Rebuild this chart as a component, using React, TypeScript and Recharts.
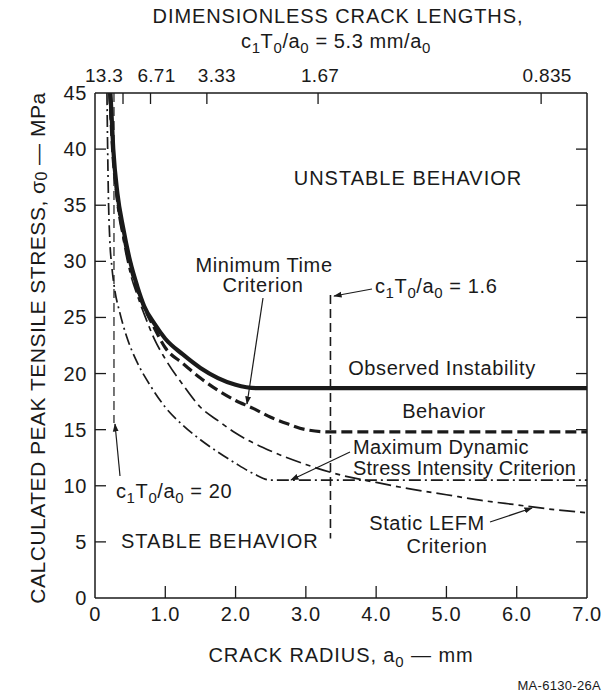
import React from 'react';
import { ComposedChart, Line, XAxis, YAxis } from 'recharts';

// ---- data ----
const observedX = [0.22, 0.26, 0.32, 0.4, 0.5, 0.6, 0.7, 0.85, 1.0, 1.25, 1.5, 1.75, 2.0, 2.3, 7.0];
const observedY = [45, 40, 36, 33, 30, 27.8, 26, 24.4, 23.1, 21.7, 20.5, 19.6, 19.0, 18.7, 18.7];

const minTimeX = [0.21, 0.25, 0.31, 0.4, 0.5, 0.6, 0.7, 0.85, 1.0, 1.25, 1.5, 1.75, 2.0, 2.25, 2.5, 2.75, 3.0, 3.35, 7.0];
const minTimeY = [45, 40, 36, 32.5, 29.6, 27.5, 25.9, 24.0, 22.3, 20.9, 19.6, 18.5, 17.6, 16.9, 16.1, 15.5, 15.0, 14.8, 14.8];

const lefmX = [0.2, 0.25, 0.3, 0.4, 0.5, 0.6, 0.7, 0.85, 1.0, 1.25, 1.5, 1.75, 2.0, 2.5, 3.0, 3.5, 4.0, 4.5, 5.0, 5.5, 6.0, 6.5, 7.0];
const lefmY = [45, 40, 36, 32, 29, 27, 25.3, 23.0, 21.3, 19.0, 17.0, 15.8, 14.7, 13.1, 11.9, 10.95, 10.3, 9.7, 9.2, 8.7, 8.3, 7.9, 7.6];

const maxDynX = [0.17, 0.18, 0.19, 0.21, 0.24, 0.28, 0.35, 0.45, 0.6, 0.8, 1.0, 1.25, 1.5, 1.75, 2.0, 2.25, 2.5, 7.0];
const maxDynY = [45, 40, 36, 32, 29.5, 27.5, 25.5, 23.3, 21, 18.8, 17.0, 15.4, 14.1, 13.0, 12.0, 11.1, 10.5, 10.5];

const stableLimitX = [0.27, 0.27];
const stableLimitY = [45, 15.6];
const criticalX = [3.35, 3.35];
const criticalY = [27, 5.3];

const xTicks = [0, 1, 2, 3, 4, 5, 6, 7];
const yTicks = [0, 5, 10, 15, 20, 25, 30, 35, 40, 45];
const topLabels = ['13.3', '6.71', '3.33', '1.67', '0.835'];
const topLabelShift = [-19, 6, 10, 2, 6];
const c1T0mm = 5.3;
const topTicks = topLabels.map((l) => c1T0mm / parseFloat(l));

const toPts = (xs: number[], ys: number[]) => xs.map((x, i) => ({ x, y: ys[i] }));

const FONT = '"Liberation Sans", Arial, Helvetica, sans-serif';
const INK = '#1a1a1a';
const LS = 0.6;

const BottomTick = (p: any) => {
  const { x, y, payload, index } = p;
  const v = payload.value;
  const inner = index > 0 && index < xTicks.length - 1;
  return (
    <g>
      {inner && <line x1={x} y1={y} x2={x} y2={y - 12} stroke={INK} strokeWidth={1.3} />}
      <text x={x} y={y + 23} textAnchor="middle" fontSize={20} letterSpacing={LS} fontFamily={FONT} fill={INK}>
        {v === 0 ? '0' : v.toFixed(1)}
      </text>
    </g>
  );
};

const TopTick = (p: any) => {
  const { x, y, index } = p;
  return (
    <g>
      <line x1={x} y1={y} x2={x} y2={y + 11} stroke={INK} strokeWidth={1.3} />
      <text x={x + topLabelShift[index]} y={y - 11} textAnchor="middle" fontSize={19} letterSpacing={0.3} fontFamily={FONT} fill={INK}>
        {topLabels[index]}
      </text>
    </g>
  );
};

const LeftTick = (p: any) => {
  const { x, y, payload } = p;
  const v = payload.value;
  const inner = v > 0 && v < 45;
  return (
    <g>
      {inner && <line x1={x} y1={y} x2={x + 11} y2={y} stroke={INK} strokeWidth={1.3} />}
      <text x={x - 8} y={y + 7} textAnchor="end" fontSize={20} letterSpacing={LS} fontFamily={FONT} fill={INK}>
        {v}
      </text>
    </g>
  );
};

const RightTick = (p: any) => {
  const { x, y, payload } = p;
  const v = payload.value;
  const inner = v > 0 && v < 45;
  return <g>{inner && <line x1={x} y1={y} x2={x - 11} y2={y} stroke={INK} strokeWidth={1.3} />}</g>;
};

const Sub = ({ children }: { children: React.ReactNode }) => (
  <tspan baselineShift="-30%" fontSize="75%">
    {children}
  </tspan>
);

const C1T0 = () => (
  <>
    <tspan>c</tspan>
    <Sub>1</Sub>
    <tspan>T</tspan>
    <Sub>0</Sub>
    <tspan>/a</tspan>
    <Sub>0</Sub>
  </>
);

export default function App() {
  const common = { isAnimationActive: false, dot: false, activeDot: false, xAxisId: 'b', yAxisId: 'l', type: 'monotone' as const };
  return (
    <div style={{ position: 'absolute', left: 0, top: 0, width: 608, height: 694, background: '#fff' }}>
      <ComposedChart width={608} height={694} margin={{ top: 63, right: 20, bottom: 66, left: 55 }}>
        <XAxis
          xAxisId="b"
          dataKey="x"
          type="number"
          domain={[0, 7]}
          ticks={xTicks}
          interval={0}
          height={30}
          tickSize={0}
          tickMargin={0}
          tickLine={false}
          axisLine={{ stroke: INK, strokeWidth: 1.5 }}
          tick={<BottomTick />}
          allowDataOverflow
        />
        <XAxis
          xAxisId="top"
          dataKey="x"
          orientation="top"
          type="number"
          domain={[0, 7]}
          ticks={topTicks}
          interval={0}
          height={30}
          tickSize={0}
          tickMargin={0}
          tickLine={false}
          axisLine={{ stroke: INK, strokeWidth: 1.5 }}
          tick={<TopTick />}
          allowDataOverflow
        />
        <YAxis
          yAxisId="l"
          type="number"
          domain={[0, 45]}
          ticks={yTicks}
          interval={0}
          width={40}
          tickSize={0}
          tickMargin={0}
          tickLine={false}
          axisLine={{ stroke: INK, strokeWidth: 1.5 }}
          tick={<LeftTick />}
          allowDataOverflow
        />
        <YAxis
          yAxisId="r"
          orientation="right"
          type="number"
          domain={[0, 45]}
          ticks={yTicks}
          interval={0}
          width={1}
          tickSize={0}
          tickMargin={0}
          tickLine={false}
          axisLine={{ stroke: INK, strokeWidth: 1.5 }}
          tick={<RightTick />}
          allowDataOverflow
        />
        {/* invisible carrier so the top and right frame axes get their ticks */}
        <Line
          isAnimationActive={false}
          dot={false}
          activeDot={false}
          xAxisId="top"
          yAxisId="r"
          data={toPts(observedX, observedY)}
          dataKey="y"
          stroke="none"
          strokeWidth={0}
        />
        <Line {...common} data={toPts(stableLimitX, stableLimitY)} dataKey="y" stroke={INK} strokeWidth={1.2} strokeDasharray="9 5" type="linear" />
        <Line {...common} data={toPts(criticalX, criticalY)} dataKey="y" stroke={INK} strokeWidth={1.6} strokeDasharray="9 5" type="linear" />
        <Line {...common} data={toPts(maxDynX, maxDynY)} dataKey="y" stroke={INK} strokeWidth={1.7} strokeDasharray="12 4 2 4" />
        <Line {...common} data={toPts(lefmX, lefmY)} dataKey="y" stroke={INK} strokeWidth={1.7} strokeDasharray="16 5 5 5" />
        <Line {...common} data={toPts(minTimeX, minTimeY)} dataKey="y" stroke={INK} strokeWidth={3.2} strokeDasharray="11 5" />
        <Line {...common} data={toPts(observedX, observedY)} dataKey="y" stroke={INK} strokeWidth={4.2} />
      </ComposedChart>

      <svg
        width={608}
        height={694}
        style={{ position: 'absolute', left: 0, top: 0, pointerEvents: 'none' }}
        fontFamily={FONT}
        fill={INK}
        letterSpacing={LS}
      >
        <defs>
          <marker id="arr" viewBox="0 0 10 10" refX="9" refY="5" markerWidth="7" markerHeight="7" orient="auto-start-reverse">
            <path d="M0,1.5 L10,5 L0,8.5 z" fill={INK} />
          </marker>
        </defs>
        <text x={338} y={23} textAnchor="middle" fontSize={20} letterSpacing={0.9}>DIMENSIONLESS CRACK LENGTHS,</text>
        <text x={336} y={48} textAnchor="middle" fontSize={20}>
          <C1T0 /> = 5.3 mm/a<Sub>0</Sub>
        </text>
        <text x={408} y={185} textAnchor="middle" fontSize={20} letterSpacing={1}>UNSTABLE BEHAVIOR</text>
        <text x={264} y={272} textAnchor="middle" fontSize={20}>Minimum Time</text>
        <text x={263} y={292} textAnchor="middle" fontSize={20}>Criterion</text>
        <line x1={263} y1={298} x2={247} y2={404} stroke={INK} strokeWidth={1.2} markerEnd="url(#arr)" />
        <text x={375} y={293} fontSize={20}>
          <C1T0 /> = 1.6
        </text>
        <line x1={372} y1={289} x2={334} y2={296} stroke={INK} strokeWidth={1.2} markerEnd="url(#arr)" />
        <text x={442} y={375} textAnchor="middle" fontSize={20}>Observed Instability</text>
        <text x={444} y={418} textAnchor="middle" fontSize={20}>Behavior</text>
        <text x={353} y={454} fontSize={20} letterSpacing={0.4}>Maximum Dynamic</text>
        <text x={353} y={475} fontSize={20} letterSpacing={0.2}>Stress Intensity Criterion</text>
        <line x1={350} y1={452} x2={291} y2={480} stroke={INK} strokeWidth={1.2} markerEnd="url(#arr)" />
        <text x={427} y={530} textAnchor="middle" fontSize={20}>Static LEFM</text>
        <text x={447} y={553} textAnchor="middle" fontSize={20}>Criterion</text>
        <line x1={490} y1={522} x2={532} y2={508} stroke={INK} strokeWidth={1.2} markerEnd="url(#arr)" />
        <text x={121} y={548} fontSize={20} letterSpacing={1}>STABLE BEHAVIOR</text>
        <text x={116} y={498} fontSize={20}>
          <C1T0 /> = 20
        </text>
        <line x1={120} y1={476} x2={115} y2={424} stroke={INK} strokeWidth={1.2} markerEnd="url(#arr)" />
        <text x={341} y={662} textAnchor="middle" fontSize={20} letterSpacing={0.9}>
          CRACK RADIUS, a<Sub>0</Sub> — mm
        </text>
        <text x={37} y={348} textAnchor="middle" fontSize={21} letterSpacing={0.5} transform="rotate(-90 37 348)" dominantBaseline="central">
          CALCULATED PEAK TENSILE STRESS, σ<Sub>0</Sub> — MPa
        </text>
        <text x={601} y={690} textAnchor="end" fontSize={13} letterSpacing={0.3}>MA-6130-26A</text>
      </svg>
    </div>
  );
}
